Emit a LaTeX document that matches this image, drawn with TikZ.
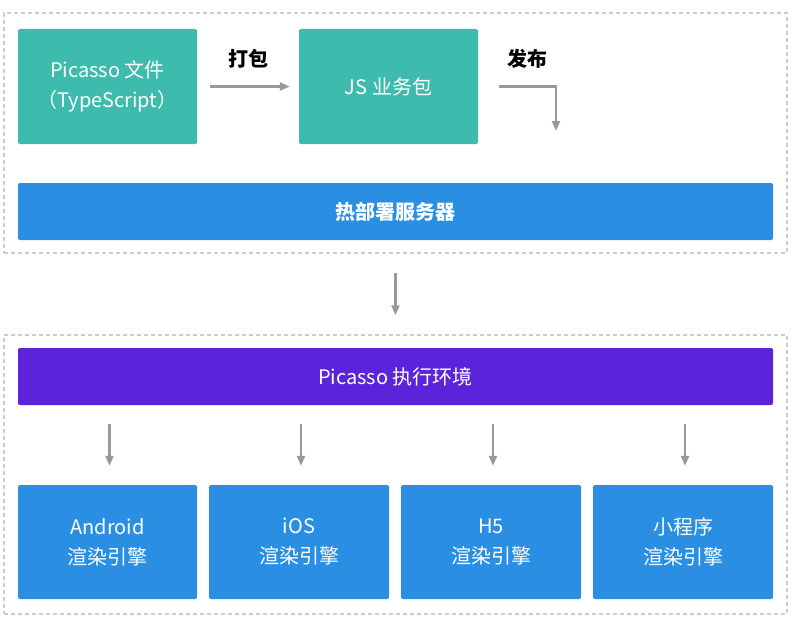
\documentclass[tikz,border=0pt]{standalone}
\usepackage{fontspec}
\setmainfont{Noto Sans CJK SC}
\usetikzlibrary{arrows.meta}

\definecolor{pkgteal}{HTML}{3DBBAD}
\definecolor{srvblue}{HTML}{2A8FE2}
\definecolor{envpurple}{HTML}{5B23DA}
\definecolor{grpgray}{HTML}{CCCCCC}
\definecolor{flowgray}{HTML}{999999}

\tikzset{
  card/.style={fill=#1, rounded corners=2pt, text=white, align=center,
    inner sep=0pt, font=\fontsize{20}{30}\selectfont},
  group/.style={draw=grpgray, dashed, line width=1.4pt,
    dash pattern=on 4pt off 3pt, inner sep=0pt},
  flow/.style={draw=flowgray, line width=2.4pt,
    -{Triangle[length=10pt,width=8pt]}},
  tag/.style={font=\fontsize{20}{24}\selectfont\bfseries}
}

\begin{document}
\begin{tikzpicture}[x=1pt,y=-1pt]
  \useasboundingbox
    (0,0)
    rectangle
    (799,626);
  % dashed groups
  \node[group, minimum width=783pt, minimum height=240pt] (topgrp) at (395.5,133) {};
  \node[group, minimum width=783pt, minimum height=279pt] (botgrp) at (395.5,474.5) {};
  % build and publish
  \node[card=pkgteal, minimum width=179pt, minimum height=115pt] (src) at (107.5,86.5)
    {Picasso 文件\\（TypeScript）};
  \node[card=pkgteal, minimum width=179pt, minimum height=115pt] (bundle) at (388.5,86.5)
    {JS 业务包};
  \node[card=srvblue, minimum width=755pt, minimum height=57pt] (server) at (395.5,211.5)
    {\bfseries 热部署服务器};
  \node[tag] (pack) at (248,59) {打包};
  \node[tag] (publish) at (527,59) {发布};
  \coordinate (pubend) at (556,131);
  \draw[flow, shorten <=13pt, shorten >=9pt]
    (src)
    --
    (bundle);
  \draw[flow]
    ([xshift=21pt]bundle.east)
    -|
    (pubend);
  \draw[flow]
    ([yshift=-19pt]topgrp.south)
    --
    ([yshift=19pt]botgrp.north);
  % runtime and engines
  \node[card=envpurple, minimum width=755pt, minimum height=57pt] (runtime) at (395.5,376.5)
    {Picasso 执行环境};
  \node[card=srvblue, minimum width=179pt, minimum height=114pt] (android) at (107.5,542)
    {Android\\渲染引擎};
  \node[card=srvblue, minimum width=180pt, minimum height=114pt] (ios) at (299,542)
    {iOS\\渲染引擎};
  \node[card=srvblue, minimum width=180pt, minimum height=114pt] (hfive) at (491,542)
    {H5\\渲染引擎};
  \node[card=srvblue, minimum width=180pt, minimum height=114pt] (mini) at (683,542)
    {小程序\\渲染引擎};
  \foreach \eng in {android,ios,hfive,mini}
    \draw[flow, shorten <=19pt, shorten >=19pt]
      ([xshift=2pt]runtime.south -| \eng.north)
      --
      ([xshift=2pt]\eng.north);
\end{tikzpicture}
\end{document}
